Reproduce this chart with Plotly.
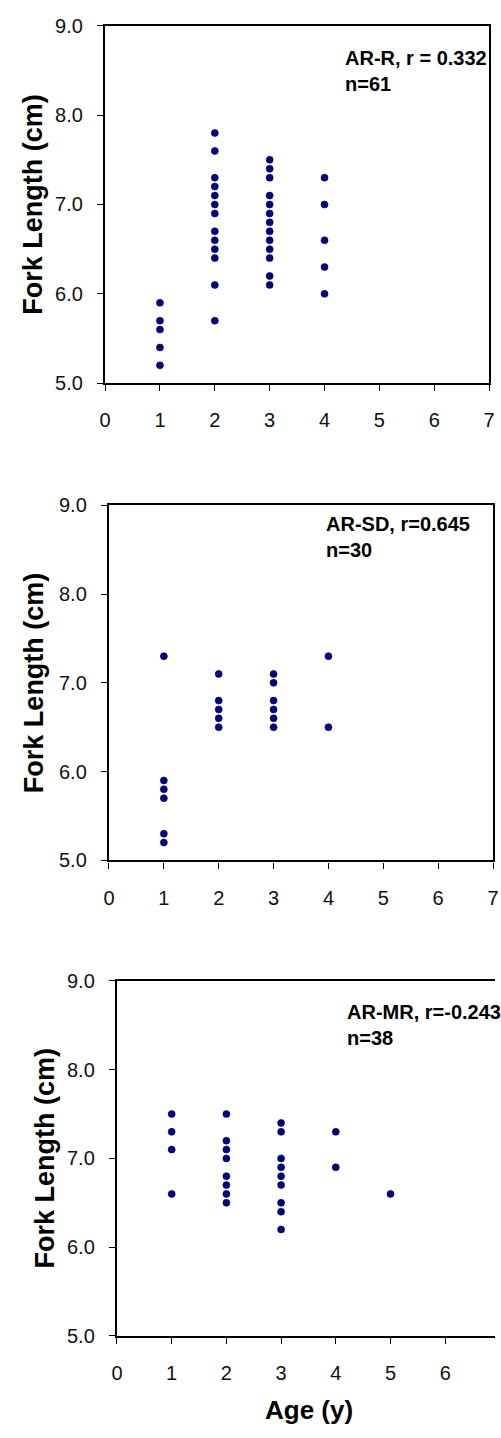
import plotly.graph_objects as go

W, H = 501, 1438

# Fork length (cm) by age (y) for the three sampling groups
ages_ar_r = [1] * 5 + [2] * 13 + [3] * 13 + [4] * 5
fl_ar_r = [5.9, 5.7, 5.6, 5.4, 5.2,
           7.8, 7.6, 7.3, 7.2, 7.1, 7.0, 6.9, 6.7, 6.6, 6.5, 6.4, 6.1, 5.7,
           7.5, 7.4, 7.3, 7.1, 7.0, 6.9, 6.8, 6.7, 6.6, 6.5, 6.4, 6.2, 6.1,
           7.3, 7.0, 6.6, 6.3, 6.0]

ages_ar_sd = [1] * 6 + [2] * 5 + [3] * 6 + [4] * 2
fl_ar_sd = [7.3, 5.9, 5.8, 5.7, 5.3, 5.2,
            7.1, 6.8, 6.7, 6.6, 6.5,
            7.1, 7.0, 6.8, 6.7, 6.6, 6.5,
            7.3, 6.5]

ages_ar_mr = [1] * 4 + [2] * 8 + [3] * 9 + [4] * 2 + [5] * 1
fl_ar_mr = [7.5, 7.3, 7.1, 6.6,
            7.5, 7.2, 7.1, 7.0, 6.8, 6.7, 6.6, 6.5,
            7.4, 7.3, 7.0, 6.9, 6.8, 6.7, 6.5, 6.4, 6.2,
            7.3, 6.9,
            6.6]

labels = ["AR-R, r = 0.332<br>n=61", "AR-SD, r=0.645<br>n=30", "AR-MR, r=-0.243<br>n=38"]
x_ticks = [0, 1, 2, 3, 4, 5, 6, 7]
y_ticks = [5.0, 6.0, 7.0, 8.0, 9.0]

FONT = "Arial, Liberation Sans, sans-serif"
MARKER = "#000080"


def px_x(x):
    return x / W


def px_y(y):
    return 1 - y / H


# plot boxes in pixels: left, right, top, bottom, x upper limit, mirror right side
panels = [
    dict(l=101.5, r=495.0, t=15.0, b=378.0, xmax=7.0, mirror_y=True,
         ax=ages_ar_r, fl=fl_ar_r, lab=labels[0], lx=345, ly=35, tx=28),
    dict(l=105.5, r=499.0, t=502.0, b=862.5, xmax=7.0, mirror_y=True,
         ax=ages_ar_sd, fl=fl_ar_sd, lab=labels[1], lx=326, ly=508, tx=28),
    dict(l=113.7, r=501.0, t=985.0, b=1345.5, xmax=(501.0 - 113.7) / 56.05,
         mirror_y=False,
         ax=ages_ar_mr, fl=fl_ar_mr, lab=labels[2], lx=347, ly=1003, tx=40),
]

fig = go.Figure()
annotations = []

for i, p in enumerate(panels, start=1):
    sfx = "" if i == 1 else str(i)
    fig.add_trace(go.Scatter(
        x=p["ax"], y=p["fl"], mode="markers",
        marker=dict(size=7, color=MARKER, line=dict(width=0.6, color="#000040")),
        xaxis="x" + sfx, yaxis="y" + sfx, showlegend=False, hoverinfo="x+y",
    ))
    common_x = dict(
        domain=[px_x(p["l"]), px_x(p["r"])],
        range=[0, p["xmax"]],
        tickmode="array", tickvals=x_ticks, ticktext=[str(v) for v in x_ticks],
        ticks="outside", ticklen=6, tickwidth=1, tickcolor="#000",
        showline=True, linewidth=2.4, linecolor="#000", mirror=True,
        showgrid=False, zeroline=False,
        tickfont=dict(family=FONT, size=20, color="#111"),
        ticklabelstandoff=12,
        anchor="y" + sfx,
    )
    common_y = dict(
        domain=[px_y(p["b"]), px_y(p["t"])],
        range=[5.0, 9.0],
        tickmode="array", tickvals=y_ticks, ticktext=[f"{v:.1f}" for v in y_ticks],
        ticks="outside", ticklen=6, tickwidth=1, tickcolor="#000",
        showline=True, linewidth=2.4, linecolor="#000", mirror=p["mirror_y"],
        showgrid=False, zeroline=False,
        tickfont=dict(family=FONT, size=20, color="#111"),
        ticklabelstandoff=10,
        anchor="x" + sfx,
    )
    fig.update_layout(**{"xaxis" + sfx: common_x, "yaxis" + sfx: common_y})

    annotations.append(dict(
        text=p["lab"], xref="paper", yref="paper",
        x=px_x(p["lx"]), y=px_y(p["ly"]), xanchor="left", yanchor="top",
        align="left", showarrow=False,
        font=dict(family=FONT, size=20, color="#000", weight="bold"),
    ))
    annotations.append(dict(
        text="<b>Fork Length (cm)</b>", xref="paper", yref="paper",
        x=px_x(p["tx"]), y=px_y((p["t"] + p["b"]) / 2),
        xanchor="center", yanchor="middle", textangle=-90, showarrow=False,
        font=dict(family=FONT, size=27, color="#000"),
    ))

annotations.append(dict(
    text="<b>Age (y)</b>", xref="paper", yref="paper",
    x=px_x(310.5), y=px_y(1421), xanchor="center", yanchor="middle",
    showarrow=False, font=dict(family=FONT, size=26, color="#000"),
))

fig.update_layout(
    width=W, height=H,
    margin=dict(l=0, r=0, t=0, b=0),
    paper_bgcolor="white", plot_bgcolor="white",
    annotations=annotations,
    font=dict(family=FONT),
)

fig.write_html("out.html")
